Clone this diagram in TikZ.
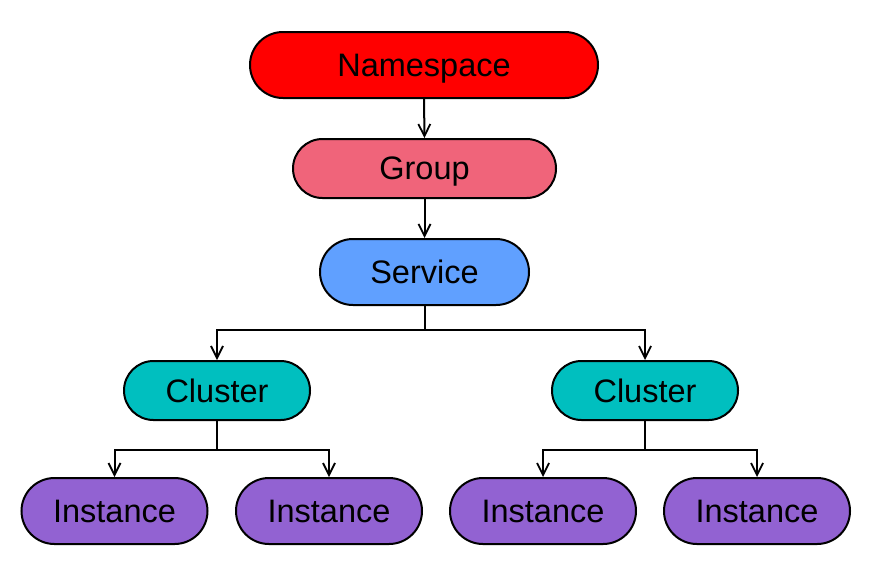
\documentclass[tikz,border=0pt]{standalone}
\usepackage{fontspec}
\setmainfont{Liberation Sans}
\usetikzlibrary{arrows.meta}
\definecolor{nsred}{RGB}{255,0,0}
\definecolor{grppink}{RGB}{240,100,122}
\definecolor{svcblue}{RGB}{96,160,255}
\definecolor{clteal}{RGB}{0,191,191}
\definecolor{inspurple}{RGB}{146,98,210}
\begin{document}
\begin{tikzpicture}[x=1pt,y=-1pt,
  pill/.style={draw=black, line width=2pt, inner sep=0pt, text depth=0pt, font=\fontsize{32.5}{38}\selectfont},
  arr/.style={draw=black, line width=2pt, -{Straight Barb[length=12pt,width=12pt,line width=1.8pt]}},
  ln/.style={draw=black, line width=2pt}]
\useasboundingbox (0,0) rectangle (872,566);
\node[pill, fill=nsred, minimum width=348pt, minimum height=66pt, rounded corners=33pt] (ns) at (424,65) {Namespace};
\node[pill, fill=grppink, minimum width=263pt, minimum height=59pt, rounded corners=29.5pt] (grp) at (424.5,168.5) {Group};
\node[pill, fill=svcblue, minimum width=209pt, minimum height=66pt, rounded corners=33pt] (svc) at (424.5,272) {Service};
\node[pill, fill=clteal, minimum width=186pt, minimum height=59pt, rounded corners=29.5pt] (c1) at (217,390.5) {Cluster};
\node[pill, fill=clteal, minimum width=186pt, minimum height=59pt, rounded corners=29.5pt] (c2) at (645,390.5) {Cluster};
\foreach \n/\x in {i1/114.5,i2/329,i3/543,i4/757}{
  \node[pill, fill=inspurple, minimum width=186pt, minimum height=66pt, rounded corners=33pt] (\n) at (\x,511) {Instance};
}
\draw[arr] (ns.south) -- (grp.north);
\draw[arr] (grp.south) -- (svc.north);
\coordinate (sj) at (424.5,330);
\draw[ln] (svc.south) -- (sj);
\draw[arr] (sj) -| (c1.north);
\draw[arr] (sj) -| (c2.north);
\coordinate (j1) at (217,450);
\coordinate (j2) at (645,450);
\draw[ln] (c1.south) -- (j1);
\draw[ln] (c2.south) -- (j2);
\draw[arr] (j1) -| (i1.north);
\draw[arr] (j1) -| (i2.north);
\draw[arr] (j2) -| (i3.north);
\draw[arr] (j2) -| (i4.north);
\end{tikzpicture}
\end{document}
